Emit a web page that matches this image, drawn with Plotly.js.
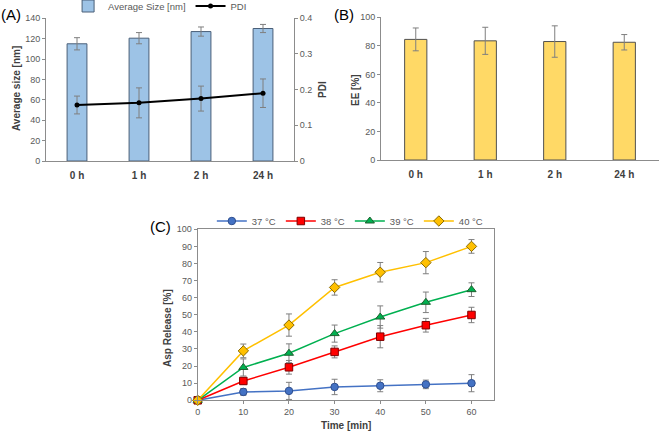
<!DOCTYPE html>
<html><head><meta charset="utf-8">
<script src="https://cdn.plot.ly/plotly-3.0.1.min.js"></script>
<style>html,body{margin:0;padding:0;background:#fff}#c{width:661px;height:432px}</style>
</head><body><div id="c"></div>
<script>
// Panel A
const timeCats = ['0 h', '1 h', '2 h', '24 h'];
const avgSize = [115, 120.5, 127, 130];
const avgSizeErr = [6, 5.5, 4.5, 4];
const pdi = [0.157, 0.163, 0.175, 0.19];
const pdiErr = [0.025, 0.042, 0.035, 0.04];
// Panel B
const ee = [84.5, 83.5, 83, 82.5];
const eeErr = [8, 9.5, 11, 5.4];
// Panel C
const timeMin = [0, 10, 20, 30, 40, 50, 60];
const rel37 = [0, 4.9, 5.5, 7.8, 8.5, 9.3, 10.0];
const err37 = [0, 2, 5, 4.5, 3.5, 2.5, 5];
const rel38 = [0, 11.3, 19.3, 28.3, 37.2, 43.9, 49.9];
const err38 = [0, 2, 4, 3.5, 6.5, 4, 4.5];
const rel39 = [0, 19.2, 27.5, 39, 48.7, 57.3, 64.7];
const err39 = [0, 5, 5.5, 5, 6.5, 6, 4];
const rel40 = [0, 28.9, 44, 66, 74.9, 80.5, 90];
const err40 = [0, 4, 6.5, 4.5, 5.7, 6.5, 4];
const tempNames = ['37 °C', '38 °C', '39 °C', '40 °C'];

const FONT = 'Liberation Sans, Arial, sans-serif';
const tickC = '#595959', titleC = '#404040', axC = '#8c8c8c';
const errStyle = (arr) => ({type: 'data', array: arr, visible: true, color: '#7f7f7f', thickness: 1, width: 3});

const traces = [
  {type: 'bar', x: timeCats, y: avgSize, name: 'Average Size [nm]', xaxis: 'x', yaxis: 'y',
   marker: {color: '#9dc3e6', line: {color: '#4a5f78', width: 1}}, error_y: errStyle(avgSizeErr), legend: 'legend'},
  {type: 'scatter', mode: 'lines+markers', x: timeCats, y: pdi, name: 'PDI', xaxis: 'x', yaxis: 'y2',
   line: {color: '#000', width: 2}, marker: {color: '#000', size: 5}, error_y: errStyle(pdiErr), legend: 'legend'},
  {type: 'bar', x: timeCats, y: ee, name: 'EE', xaxis: 'x2', yaxis: 'y3', showlegend: false,
   marker: {color: '#ffd966', line: {color: '#505050', width: 1}}, error_y: errStyle(eeErr)}
];
const cSeries = [
  [rel37, err37, '#4472c4', '#2f4f8f', 'circle', 7.5],
  [rel38, err38, '#ff0000', '#7f0000', 'square', 7.5],
  [rel39, err39, '#00b050', '#1e5f2e', 'triangle-up', 8],
  [rel40, err40, '#ffc000', '#8a6a00', 'diamond', 8]
];
cSeries.forEach((s, i) => {
  traces.push({type: 'scatter', mode: 'lines+markers', x: timeMin, y: s[0], name: tempNames[i],
    xaxis: 'x3', yaxis: 'y4', legend: 'legend2', cliponaxis: false,
    line: {color: s[2], width: 1.5}, marker: {color: s[2], symbol: s[4], size: s[5], line: {color: s[3], width: 1}},
    error_y: errStyle(s[1])});
});

const tf = {family: FONT, size: 9, color: tickC};
const xcatFont = {family: FONT, size: 10, color: '#404040', weight: 'bold'};
const ann = (text, px, py, size, angle, weightColor) => ({text: text, textangle: angle || 0,
  x: px / 661, y: 1 - py / 432, xref: 'paper', yref: 'paper', xanchor: 'center', yanchor: 'middle',
  showarrow: false, font: {family: FONT, size: size, color: weightColor}});

const layout = {
  width: 661, height: 432, margin: {l: 0, r: 0, t: 0, b: 0, autoexpand: false},
  paper_bgcolor: '#fff', plot_bgcolor: 'rgba(0,0,0,0)',
  font: {family: FONT}, bargap: 0.68, showlegend: true,
  xaxis: {domain: [0.0696, 0.4448], anchor: 'y', type: 'category', range: [-0.5, 3.5], showline: true, linecolor: axC,
    ticks: '', tickfont: xcatFont, ticklabelstandoff: 5, showgrid: false, zeroline: false, automargin: false},
  yaxis: {domain: [0.6273, 0.9576], anchor: 'x', range: [0, 140], dtick: 20, showline: true, linecolor: axC,
    ticks: 'outside', ticklen: 3, tickcolor: axC, tickfont: tf, showgrid: false, zeroline: false, automargin: false},
  yaxis2: {overlaying: 'y', side: 'right', anchor: 'x', range: [0, 0.4], dtick: 0.1, showline: true, linecolor: axC,
    ticks: 'outside', ticklen: 3, tickcolor: axC, tickfont: tf, showgrid: false, zeroline: false, automargin: false},
  xaxis2: {domain: [0.5764, 0.997], anchor: 'y3', type: 'category', range: [-0.5, 3.5], showline: true, linecolor: axC,
    ticks: '', tickfont: xcatFont, ticklabelstandoff: 5, showgrid: false, zeroline: false, automargin: false},
  yaxis3: {domain: [0.6296, 0.96], anchor: 'x2', range: [0, 100], dtick: 20, showline: true, linecolor: axC,
    ticks: 'outside', ticklen: 3, tickcolor: axC, tickfont: tf, showgrid: false, zeroline: false, automargin: false},
  xaxis3: {domain: [0.2991, 0.7478], anchor: 'y4', range: [0, 65], tickvals: timeMin, showline: true, mirror: true, linecolor: axC,
    ticks: 'outside', ticklen: 3, tickcolor: axC, tickfont: tf, showgrid: false, zeroline: false, automargin: false},
  yaxis4: {domain: [0.0734, 0.4692], anchor: 'x3', range: [0, 100], dtick: 10, showline: true, mirror: true, linecolor: axC,
    ticks: 'outside', ticklen: 3, tickcolor: axC, tickfont: tf, showgrid: false, zeroline: false, automargin: false},
  legend: {orientation: 'h', x: 0.103, xanchor: 'left', y: 1 - 6/432, yanchor: 'middle', font: {family: FONT, size: 9.5, color: tickC},
    bgcolor: 'rgba(0,0,0,0)', itemwidth: 30},
  legend2: {orientation: 'h', x: 0.53, xanchor: 'center', y: 1 - 221/432, yanchor: 'middle', font: {family: FONT, size: 9.5, color: tickC},
    bgcolor: 'rgba(0,0,0,0)', itemwidth: 30},
  annotations: [
    ann('(A)', 11, 15, 15, 0, '#000'),
    ann('(B)', 344, 15, 15, 0, '#000'),
    ann('(C)', 160, 226, 15, 0, '#000'),
    ann('<b>Average size [nm]</b>', 17, 89, 10, -90, titleC),
    ann('<b>PDI</b>', 322, 90, 10, -90, titleC),
    ann('<b>EE [%]</b>', 355, 90, 10, -90, titleC),
    ann('<b>Asp Release [%]</b>', 167, 328, 10, -90, titleC),
    ann('<b>Time [min]</b>', 346, 425, 10, 0, titleC)
  ]
};
Plotly.newPlot('c', traces, layout, {displayModeBar: false, staticPlot: true});
</script></body></html>
